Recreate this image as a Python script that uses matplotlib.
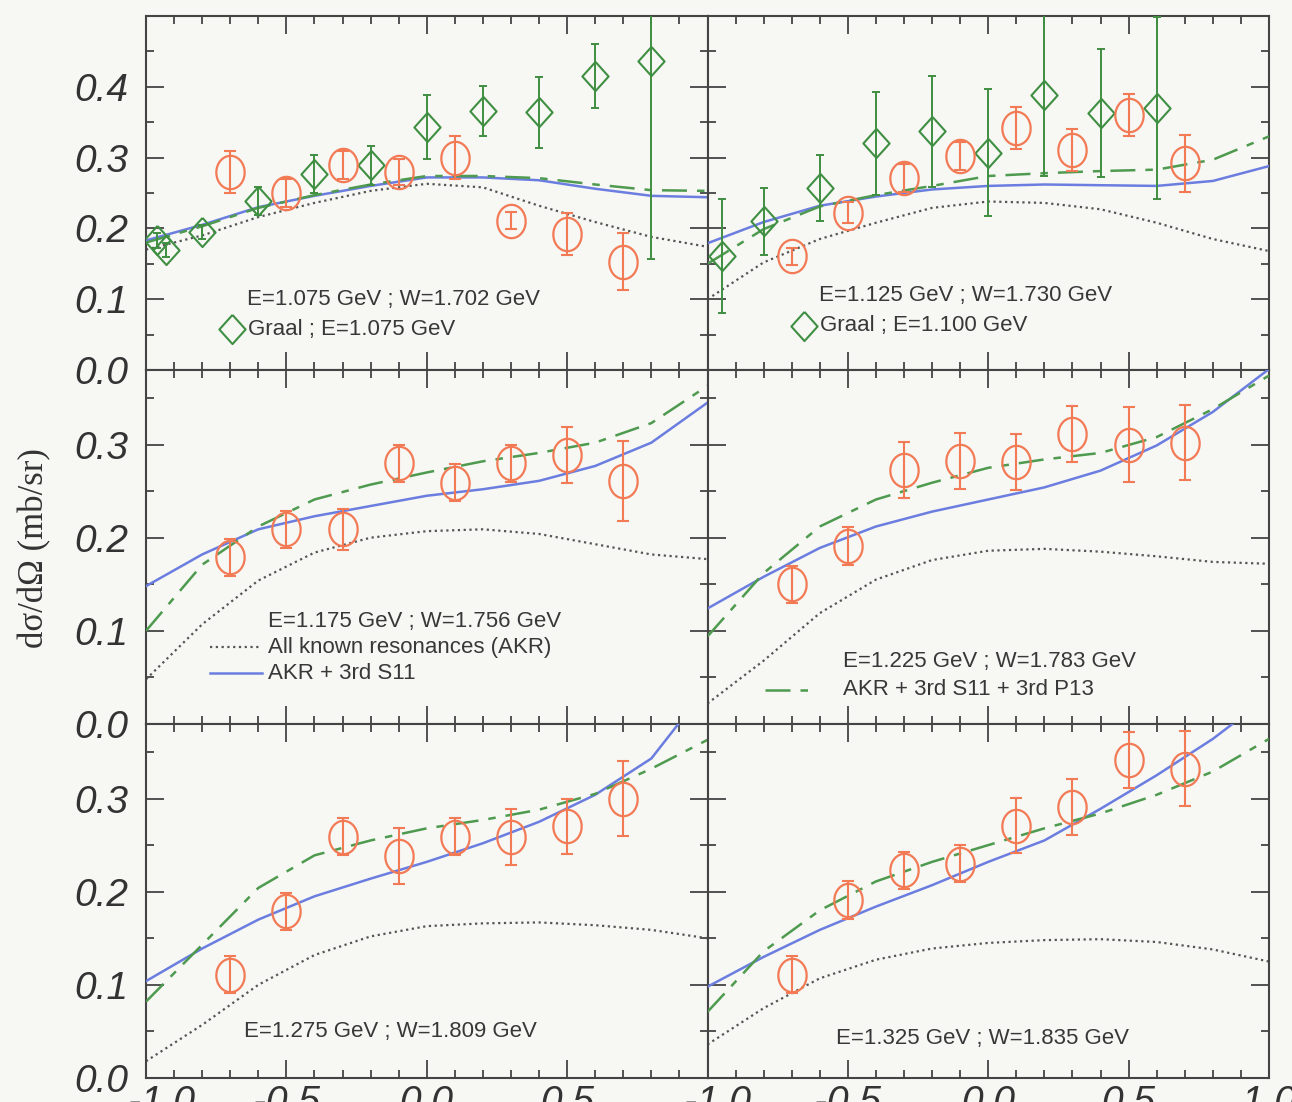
import numpy as np
import matplotlib
matplotlib.use('Agg')
import matplotlib.pyplot as plt
from matplotlib.ticker import MultipleLocator
from matplotlib.transforms import ScaledTranslation

plt.rcParams['font.family'] = ['Liberation Sans', 'DejaVu Sans']

# 角度 cos(theta) 网格
cos_clas = [-0.7, -0.5, -0.3, -0.1, 0.1, 0.3, 0.5, 0.7]
x_curve = [-1.0, -0.8, -0.6, -0.4, -0.2, 0.0, 0.2, 0.4, 0.6, 0.8, 1.0]

# E=1.075 GeV
clas_1075 = [0.280, 0.250, 0.290, 0.280, 0.300, 0.211, 0.192, 0.153]
clas_err_1075 = [0.030, 0.020, 0.020, 0.018, 0.030, 0.012, 0.030, 0.040]
graal_x_1075 = [-0.96, -0.93, -0.8, -0.6, -0.4, -0.2, 0.0, 0.2, 0.4, 0.6, 0.8]
graal_1075 = [0.183, 0.170, 0.195, 0.239, 0.277, 0.289, 0.343, 0.366, 0.364, 0.415, 0.437]
graal_err_1075 = [0.010, 0.010, 0.010, 0.020, 0.027, 0.028, 0.045, 0.035, 0.050, 0.045, 0.280]
akr_1075 = [0.170, 0.190, 0.216, 0.236, 0.253, 0.263, 0.258, 0.232, 0.209, 0.188, 0.174]
s11_1075 = [0.183, 0.205, 0.230, 0.246, 0.260, 0.272, 0.272, 0.268, 0.256, 0.246, 0.244]
p13_1075 = [0.180, 0.203, 0.229, 0.247, 0.262, 0.274, 0.274, 0.271, 0.262, 0.254, 0.253]

# E=1.125 GeV
clas_1125 = [0.161, 0.222, 0.271, 0.302, 0.342, 0.311, 0.360, 0.292]
clas_err_1125 = [0.012, 0.015, 0.020, 0.020, 0.030, 0.030, 0.030, 0.040]
graal_x_1125 = [-0.95, -0.8, -0.6, -0.4, -0.2, 0.0, 0.2, 0.4, 0.6]
graal_1125 = [0.161, 0.210, 0.257, 0.320, 0.337, 0.307, 0.389, 0.363, 0.370]
graal_err_1125 = [0.080, 0.047, 0.047, 0.073, 0.078, 0.090, 0.115, 0.090, 0.129]
akr_1125 = [0.100, 0.152, 0.185, 0.208, 0.229, 0.238, 0.236, 0.227, 0.208, 0.185, 0.168]
s11_1125 = [0.179, 0.209, 0.232, 0.245, 0.255, 0.260, 0.262, 0.261, 0.260, 0.267, 0.288]
p13_1125 = [0.150, 0.199, 0.231, 0.247, 0.260, 0.274, 0.278, 0.281, 0.283, 0.297, 0.330]

# E=1.175 GeV
clas_1175 = [0.179, 0.209, 0.209, 0.280, 0.259, 0.280, 0.289, 0.261]
clas_err_1175 = [0.020, 0.020, 0.022, 0.020, 0.020, 0.020, 0.030, 0.043]
akr_1175 = [0.048, 0.107, 0.154, 0.184, 0.200, 0.207, 0.209, 0.204, 0.193, 0.182, 0.177]
s11_1175 = [0.148, 0.182, 0.209, 0.223, 0.234, 0.245, 0.252, 0.261, 0.277, 0.302, 0.345]
p13_1175 = [0.100, 0.171, 0.212, 0.241, 0.257, 0.270, 0.282, 0.291, 0.302, 0.323, 0.363]

# E=1.225 GeV
clas_1225 = [0.150, 0.191, 0.273, 0.282, 0.281, 0.311, 0.300, 0.302]
clas_err_1225 = [0.020, 0.020, 0.030, 0.030, 0.030, 0.030, 0.040, 0.040]
akr_1225 = [0.022, 0.068, 0.119, 0.155, 0.176, 0.186, 0.188, 0.185, 0.180, 0.174, 0.172]
s11_1225 = [0.124, 0.158, 0.189, 0.212, 0.228, 0.241, 0.254, 0.272, 0.299, 0.335, 0.381]
p13_1225 = [0.094, 0.162, 0.212, 0.241, 0.259, 0.275, 0.284, 0.291, 0.308, 0.338, 0.374]

# E=1.275 GeV
clas_1275 = [0.111, 0.179, 0.259, 0.238, 0.259, 0.259, 0.270, 0.300]
clas_err_1275 = [0.020, 0.020, 0.020, 0.030, 0.020, 0.030, 0.030, 0.040]
akr_1275 = [0.018, 0.057, 0.100, 0.132, 0.152, 0.163, 0.166, 0.167, 0.164, 0.159, 0.150]
s11_1275 = [0.104, 0.139, 0.170, 0.195, 0.214, 0.232, 0.252, 0.275, 0.304, 0.343, 0.420]
p13_1275 = [0.082, 0.143, 0.204, 0.239, 0.255, 0.268, 0.277, 0.288, 0.305, 0.332, 0.363]

# E=1.325 GeV
clas_1325 = [0.111, 0.191, 0.223, 0.230, 0.271, 0.291, 0.341, 0.332]
clas_err_1325 = [0.020, 0.020, 0.020, 0.020, 0.030, 0.030, 0.030, 0.040]
akr_1325 = [0.036, 0.075, 0.107, 0.127, 0.139, 0.145, 0.148, 0.149, 0.146, 0.138, 0.125]
s11_1325 = [0.098, 0.130, 0.159, 0.184, 0.207, 0.232, 0.255, 0.289, 0.325, 0.364, 0.410]
p13_1325 = [0.071, 0.136, 0.180, 0.211, 0.232, 0.250, 0.268, 0.284, 0.304, 0.329, 0.364]

titles = ['E=1.075 GeV ; W=1.702 GeV', 'E=1.125 GeV ; W=1.730 GeV',
          'E=1.175 GeV ; W=1.756 GeV', 'E=1.225 GeV ; W=1.783 GeV',
          'E=1.275 GeV ; W=1.809 GeV', 'E=1.325 GeV ; W=1.835 GeV']

panels = [
    (clas_1075, clas_err_1075, akr_1075, s11_1075, p13_1075),
    (clas_1125, clas_err_1125, akr_1125, s11_1125, p13_1125),
    (clas_1175, clas_err_1175, akr_1175, s11_1175, p13_1175),
    (clas_1225, clas_err_1225, akr_1225, s11_1225, p13_1225),
    (clas_1275, clas_err_1275, akr_1275, s11_1275, p13_1275),
    (clas_1325, clas_err_1325, akr_1325, s11_1325, p13_1325),
]
graal = {0: (graal_x_1075, graal_1075, graal_err_1075, 'Graal ; E=1.075 GeV'),
         1: (graal_x_1125, graal_1125, graal_err_1125, 'Graal ; E=1.100 GeV')}

# 颜色
c_clas = '#f27a55'
c_graal = '#3f8f42'
c_s11 = '#6b7ee0'
c_p13 = '#4e9a4e'
c_akr = '#555555'
bg = '#f7f7f4'

# 标记形状：略高的椭圆和菱形
th = np.linspace(0, 2 * np.pi, 61)
ellipse = list(zip(0.85 * np.cos(th), np.sin(th)))
diamond = [(0, 1), (0.9, 0), (0, -1), (-0.9, 0), (0, 1)]

# 文字位置 (axes 坐标)
label_pos = [(0.18, 0.20), (0.198, 0.21), (0.217, 0.29),
             (0.242, 0.177), (0.175, 0.13), (0.228, 0.112)]

fig, axes = plt.subplots(3, 2, figsize=(12.92, 11.02), dpi=100,
                         gridspec_kw=dict(hspace=0, wspace=0))
fig.patch.set_facecolor(bg)
fig.subplots_adjust(left=146 / 1292, right=1269 / 1292,
                    top=1 - 16 / 1102, bottom=1 - 1078 / 1102)

tick_font = dict(family='Liberation Sans', style='italic', size=28)
txt_color = '#383838'

for i, ax in enumerate(axes.flat):
    row, col = divmod(i, 2)
    clas, clas_err, akr, s11, p13 = panels[i]
    ax.set_facecolor(bg)

    ax.plot(x_curve, akr, color=c_akr, lw=1.6, linestyle=(0, (1, 1.6)), zorder=2)
    ax.plot(x_curve, s11, color=c_s11, lw=1.8, zorder=3)
    ax.plot(x_curve, p13, color=c_p13, lw=1.8, dashes=(10, 4, 3, 4), zorder=3)

    if i in graal:
        gx, gy, ge, glab = graal[i]
        ax.errorbar(gx, gy, yerr=ge, fmt='none', ecolor=c_graal, elinewidth=1.4,
                    capsize=3, capthick=1.4, zorder=4)
        ax.plot(gx, gy, linestyle='none', marker=diamond, markersize=21,
                markerfacecolor='none', markeredgecolor=c_graal, markeredgewidth=1.5,
                zorder=5)

    ax.errorbar(cos_clas, clas, yerr=clas_err, fmt='none', ecolor=c_clas,
                elinewidth=1.5, capsize=4, capthick=1.5, zorder=6)
    ax.plot(cos_clas, clas, linestyle='none', marker=ellipse, markersize=24,
            markerfacecolor='none', markeredgecolor=c_clas, markeredgewidth=1.6,
            zorder=7)

    # 能量标注
    tx, ty = label_pos[i]
    ax.text(tx, ty, titles[i], transform=ax.transAxes, fontsize=16,
            color=txt_color, va='center', ha='left')
    if i in graal:
        ax.plot([tx - 0.027], [ty - 0.085], transform=ax.transAxes, marker=diamond,
                markersize=21, markerfacecolor='none', markeredgecolor=c_graal,
                markeredgewidth=1.5, clip_on=False)
        ax.text(tx + 0.002, ty - 0.085, graal[i][3], transform=ax.transAxes,
                fontsize=16, color=txt_color, va='center', ha='left')
    if i == 2:
        ax.plot([0.114, 0.207], [0.217, 0.217], transform=ax.transAxes,
                color=c_akr, lw=1.6, linestyle=(0, (1, 1.6)))
        ax.text(tx, 0.217, 'All known resonances (AKR)', transform=ax.transAxes,
                fontsize=16, color=txt_color, va='center')
        ax.plot([0.114, 0.207], [0.143, 0.143], transform=ax.transAxes,
                color=c_s11, lw=1.8)
        ax.text(tx, 0.143, 'AKR + 3rd S11', transform=ax.transAxes,
                fontsize=16, color=txt_color, va='center')
    if i == 3:
        ax.plot([0.103, 0.185], [0.097, 0.097], transform=ax.transAxes,
                color=c_p13, lw=1.8, dashes=(10, 4, 3, 4))
        ax.text(tx, 0.097, 'AKR + 3rd S11 + 3rd P13', transform=ax.transAxes,
                fontsize=16, color=txt_color, va='center')

    # 坐标轴
    ax.set_xlim(-1, 1)
    if row == 0:
        ax.set_ylim(0, 0.5)
        yt = [0.0, 0.1, 0.2, 0.3, 0.4, 0.5]
        yl = ['0.0', '0.1', '0.2', '0.3', '0.4', '']
    else:
        ax.set_ylim(0, 0.38)
        yt = [0.0, 0.1, 0.2, 0.3]
        yl = ['0.0', '0.1', '0.2', '0.3']
    ax.set_yticks(yt)
    ax.set_yticklabels(yl if col == 0 else [''] * len(yt), fontdict=tick_font)
    ax.yaxis.set_minor_locator(MultipleLocator(0.05))

    xt = [-1.0, -0.5, 0.0, 0.5, 1.0]
    ax.set_xticks(xt)
    if row == 2:
        xl = ['-1.0', '-0.5', '0.0', '0.5', '1.0' if col == 1 else '']
        ax.set_xticklabels(xl, fontdict=tick_font)
    else:
        ax.set_xticklabels([''] * 5)
    ax.xaxis.set_minor_locator(MultipleLocator(0.1))

    ax.tick_params(which='both', direction='in', top=True, right=True,
                   color='#444444', width=1.3)
    ax.tick_params(which='major', length=13, pad=6)
    ax.tick_params(which='minor', length=6)
    ax.tick_params(axis='y', which='major', pad=13, labelcolor='#333333')
    ax.tick_params(axis='x', which='major', pad=5, labelcolor='#333333')
    for sp in ax.spines.values():
        sp.set_color('#444444')
        sp.set_linewidth(1.5)

# 底行第一个刻度标签稍向右移，与 y 轴的 0.0 分开
for ax, shift in ((axes[2, 0], 16), (axes[2, 1], 10)):
    lab = ax.xaxis.get_major_ticks()[0].label1
    lab.set_transform(lab.get_transform() +
                      ScaledTranslation(shift / 100, 0, fig.dpi_scale_trans))

fig.text(35 / 1292, 1 - 548 / 1102, 'd\u03c3/d\u03a9 (mb/sr)', rotation=90,
         ha='center', va='center', family='Liberation Serif', fontsize=25,
         color='#333333')

fig.savefig('out.png', dpi=100, facecolor=bg)
